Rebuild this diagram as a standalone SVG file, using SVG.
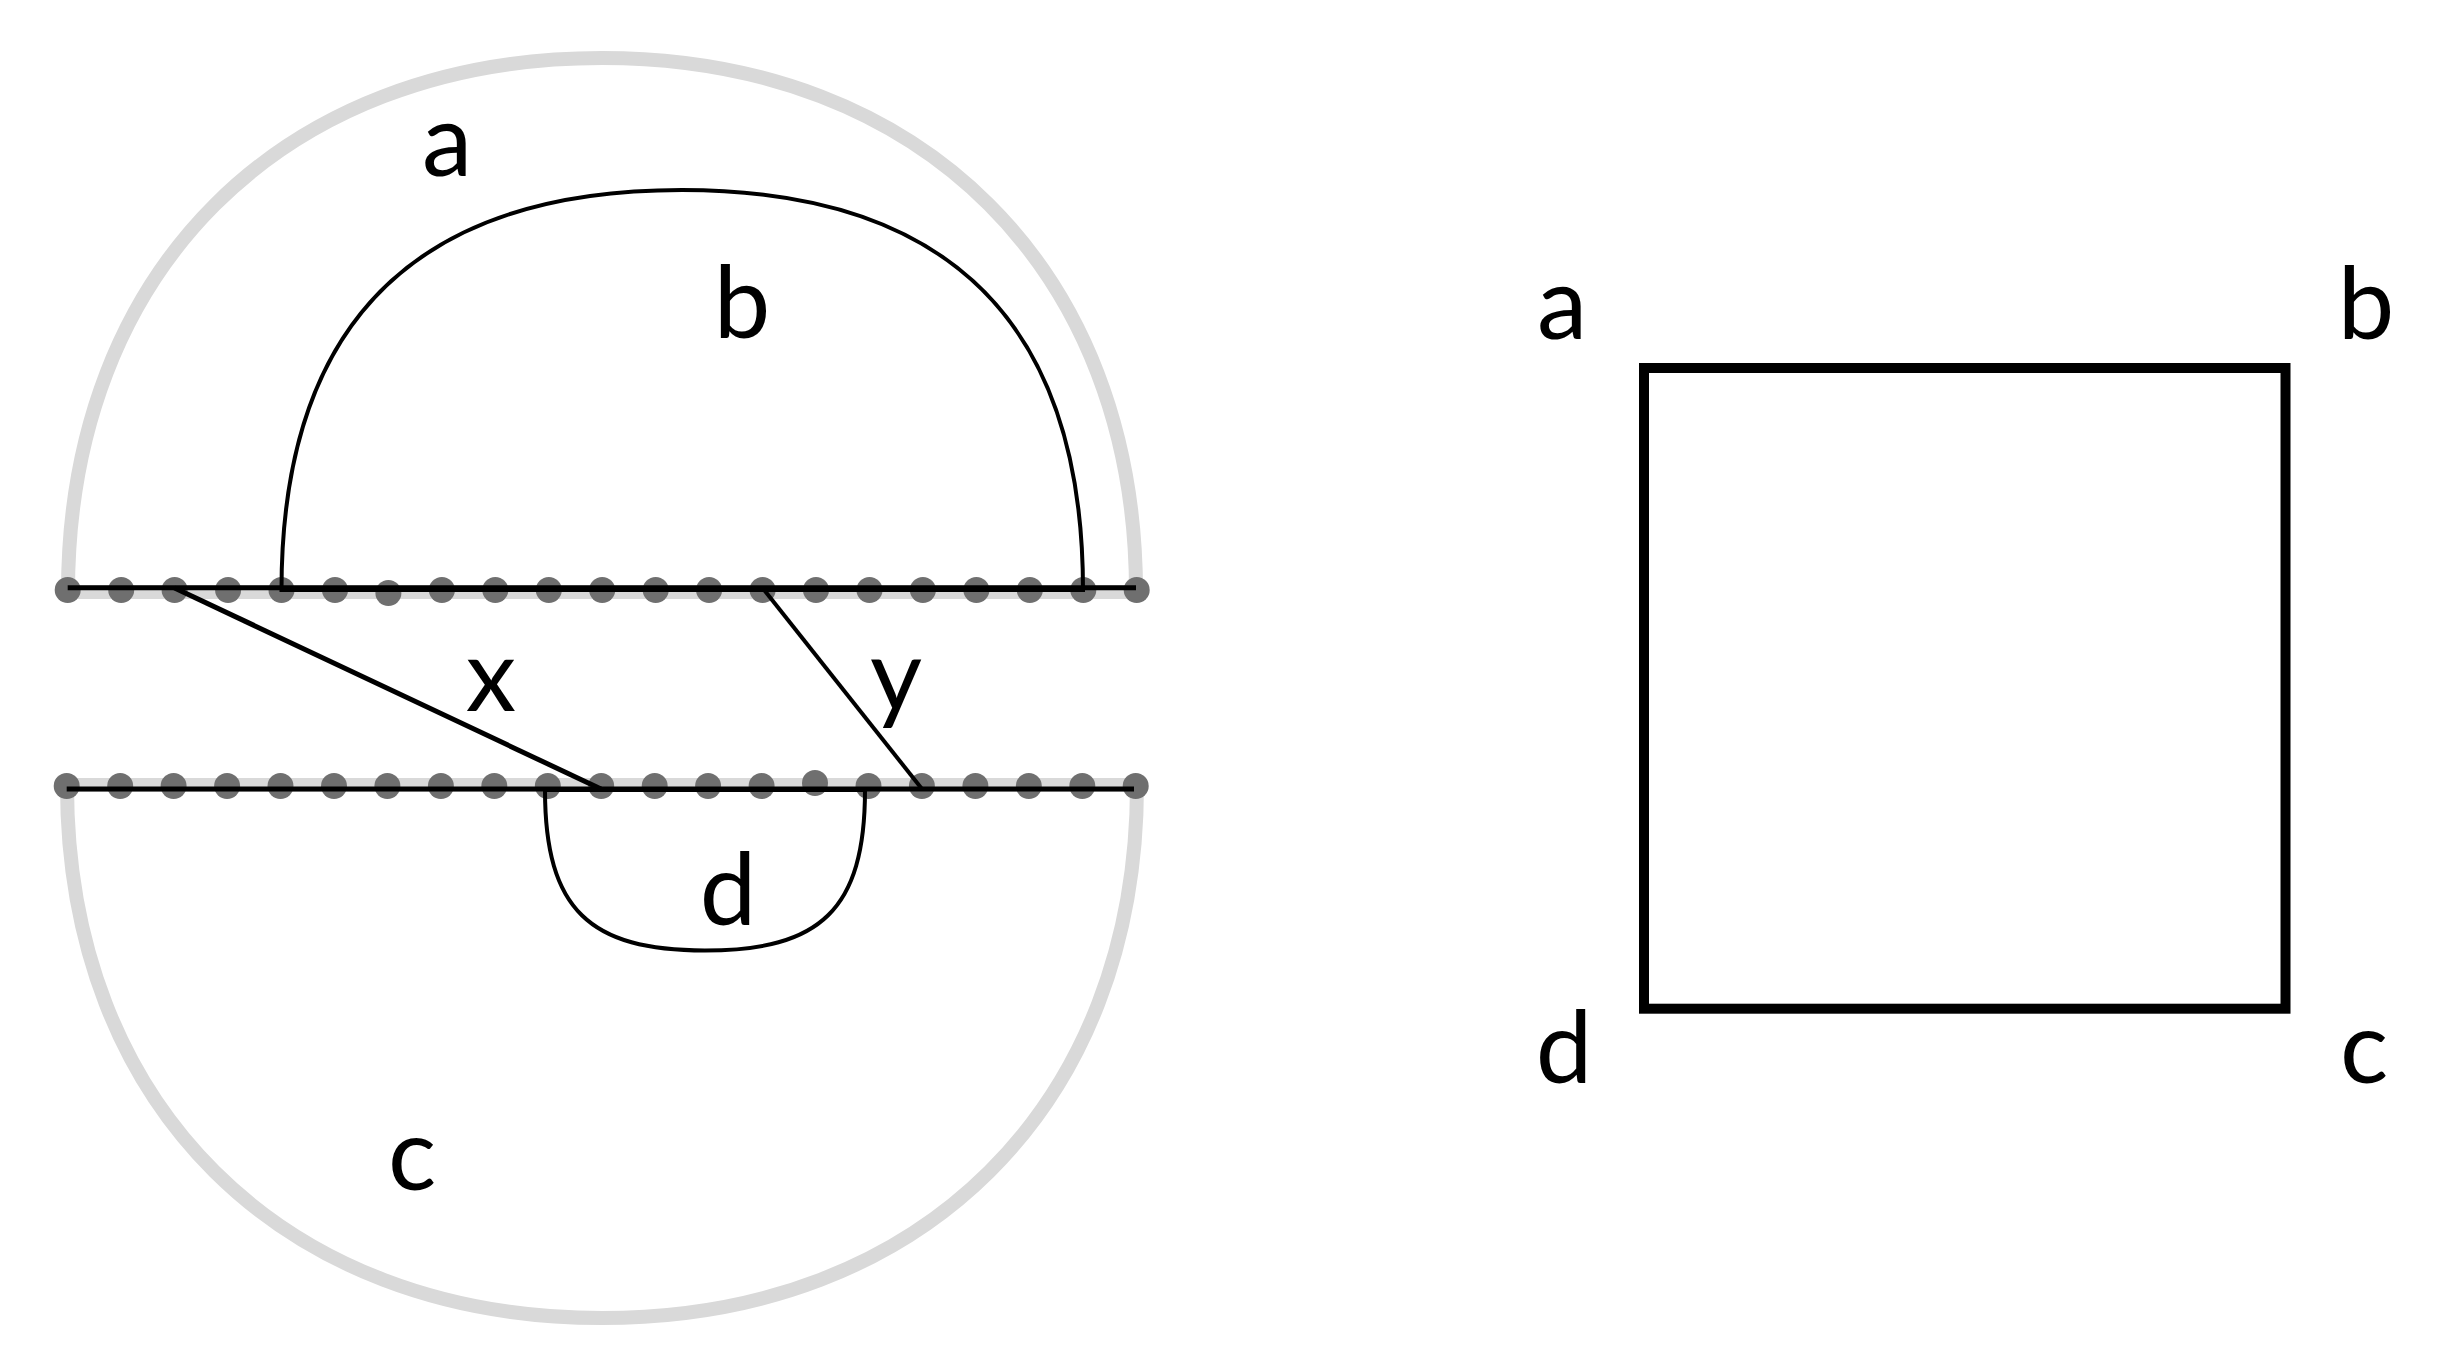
<svg xmlns="http://www.w3.org/2000/svg" width="2441" height="1370" viewBox="0 0 2441 1370">
  <style>
    .band { fill: none; stroke: #d9d9d9; stroke-width: 14; stroke-linejoin: round; }
    .dot { fill: #6f6f6f; }
    .ink { fill: none; stroke: #000; stroke-linecap: butt; }
    .lbl { font-family: Lato, "Open Sans", "Liberation Sans", sans-serif; font-size: 101px; fill: #000; text-anchor: middle; }
  </style>
  <rect width="2441" height="1370" fill="#fff"/>

  <g id="outer-upper">
    <path class="band" d="M68,592 C68,271 282,58 602,58 C922,58 1136,271 1136,592 Z"/>
  </g>
  <g id="outer-lower">
    <path class="band" d="M67,785 C67,1105 282,1318 602,1318 C922,1318 1137,1105 1137,785 Z"/>
  </g>

  <g id="dots-upper">
    <circle class="dot" cx="67.7" cy="590" r="13"/>
    <circle class="dot" cx="121.2" cy="590" r="13"/>
    <circle class="dot" cx="174.6" cy="590" r="13"/>
    <circle class="dot" cx="228.1" cy="590" r="13"/>
    <circle class="dot" cx="281.5" cy="590" r="13"/>
    <circle class="dot" cx="335" cy="590" r="13"/>
    <circle class="dot" cx="388.4" cy="593" r="13"/>
    <circle class="dot" cx="441.9" cy="590" r="13"/>
    <circle class="dot" cx="495.3" cy="590" r="13"/>
    <circle class="dot" cx="548.8" cy="590" r="13"/>
    <circle class="dot" cx="602.2" cy="590" r="13"/>
    <circle class="dot" cx="655.7" cy="590" r="13"/>
    <circle class="dot" cx="709.1" cy="590" r="13"/>
    <circle class="dot" cx="762.6" cy="590" r="13"/>
    <circle class="dot" cx="816" cy="590" r="13"/>
    <circle class="dot" cx="869.5" cy="590" r="13"/>
    <circle class="dot" cx="922.9" cy="590" r="13"/>
    <circle class="dot" cx="976.4" cy="590" r="13"/>
    <circle class="dot" cx="1029.8" cy="590" r="13"/>
    <circle class="dot" cx="1083.3" cy="590" r="13"/>
    <circle class="dot" cx="1136.7" cy="590" r="13"/>
  </g>
  <g id="dots-lower">
    <circle class="dot" cx="66.7" cy="786" r="13"/>
    <circle class="dot" cx="120.2" cy="786" r="13"/>
    <circle class="dot" cx="173.6" cy="786" r="13"/>
    <circle class="dot" cx="227.1" cy="786" r="13"/>
    <circle class="dot" cx="280.5" cy="786" r="13"/>
    <circle class="dot" cx="334" cy="786" r="13"/>
    <circle class="dot" cx="387.4" cy="786" r="13"/>
    <circle class="dot" cx="440.9" cy="786" r="13"/>
    <circle class="dot" cx="494.3" cy="786" r="13"/>
    <circle class="dot" cx="547.8" cy="786" r="13"/>
    <circle class="dot" cx="601.2" cy="786" r="13"/>
    <circle class="dot" cx="654.7" cy="786" r="13"/>
    <circle class="dot" cx="708.1" cy="786" r="13"/>
    <circle class="dot" cx="761.6" cy="786" r="13"/>
    <circle class="dot" cx="815" cy="783" r="13"/>
    <circle class="dot" cx="868.5" cy="786" r="13"/>
    <circle class="dot" cx="921.9" cy="786" r="13"/>
    <circle class="dot" cx="975.4" cy="786" r="13"/>
    <circle class="dot" cx="1028.8" cy="786" r="13"/>
    <circle class="dot" cx="1082.3" cy="786" r="13"/>
    <circle class="dot" cx="1135.7" cy="786" r="13"/>
  </g>

  <g id="connectors">
    <line class="ink" x1="67.7" y1="587.7" x2="1136" y2="587.7" stroke-width="5"/>
    <line class="ink" x1="66.7" y1="789" x2="1134" y2="789" stroke-width="5"/>
    <path id="b-arc" class="ink" stroke-width="4" d="M281.5,590 C281.5,300 440,190 682,190 C924,190 1083,300 1083,590 Z"/>
    <path id="d-arc" class="ink" stroke-width="4" d="M545,790 C545,910 590,950.5 705,950.5 C820,950.5 865,910 865,790 Z"/>
    <line id="x-line" class="ink" x1="174.6" y1="588" x2="601" y2="789" stroke-width="5"/>
    <line id="y-line" class="ink" x1="762.6" y1="588" x2="922" y2="789" stroke-width="4"/>
  </g>

  <g id="labels-left">
    <text class="lbl" x="447" y="176">a</text>
    <text class="lbl" x="742" y="338">b</text>
    <text class="lbl" x="412" y="1190">c</text>
    <text class="lbl" x="728" y="925">d</text>
    <text class="lbl" x="491" y="711">x</text>
    <text class="lbl" x="896" y="711">y</text>
  </g>

  <g id="square">
    <rect x="1644" y="368" width="641.5" height="640.7" fill="none" stroke="#000" stroke-width="10"/>
  </g>
  <g id="labels-right">
    <text class="lbl" x="1562" y="339">a</text>
    <text class="lbl" x="2366" y="339">b</text>
    <text class="lbl" x="2364" y="1083">c</text>
    <text class="lbl" x="1564" y="1083">d</text>
  </g>
</svg>
